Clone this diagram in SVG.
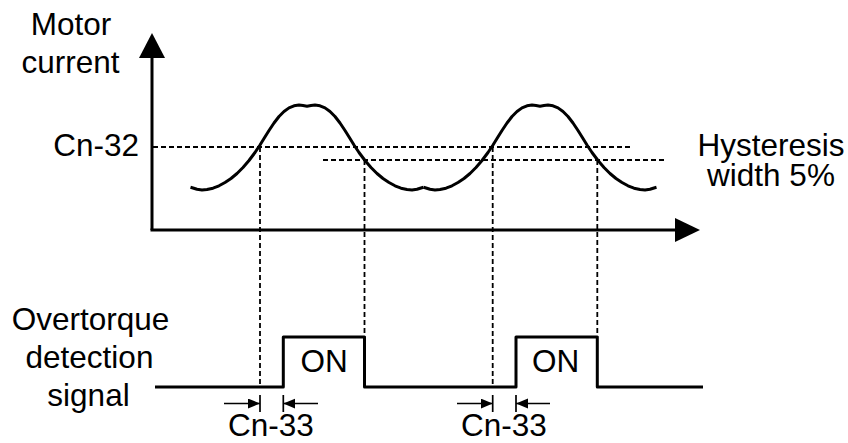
<svg xmlns="http://www.w3.org/2000/svg" xmlns:xlink="http://www.w3.org/1999/xlink" width="848" height="443" viewBox="0 0 848 443">
<style>
text{font-family:"Liberation Sans",Arial,sans-serif;font-size:31.5px;fill:#000}
.solid{fill:none;stroke:#000;stroke-width:3;stroke-linejoin:round}
.dash{fill:none;stroke:#000;stroke-width:1.8;stroke-dasharray:5,3}
.thin{fill:none;stroke:#000;stroke-width:1.7}
.mid{text-anchor:middle}
</style>
<defs>
<marker id="dimArrow" markerWidth="13" markerHeight="11" refX="12" refY="5" orient="auto" markerUnits="userSpaceOnUse">
<path d="M0,0 L12,5 L0,10 Z" fill="#000"/>
</marker>
<path id="hump" d="M-116.5,187.3 L-114,188 L-110,189.3 L-105,190 L-100,189.5 L-94,188.2 L-88,185.8 L-82,182.5 L-76,178.5 L-70,173.5 L-64,167.5 L-58,160.5 L-52,152.5 L-47,145 L-43,138.5 L-38,130.5 L-33,123 L-28,116.5 L-23,111.5 L-18,107.9 L-13,105.8 L-8,105.1 L-4,105.6 L0,106.3 L4,105.6 L8,105.1 L13,105.8 L18,107.9 L23,111.5 L28,116.5 L33,123 L38,130.5 L43,138.5 L47,145 L52,152.5 L58,160.5 L64,167.5 L70,173.5 L76,178.5 L82,182.5 L88,185.8 L94,188.2 L100,189.5 L105,190 L110,189.3 L114,188 L116.5,187.3"/>
</defs>

<g id="axes">
<line class="solid" x1="152" y1="230" x2="152" y2="56"/>
<path d="M152,33 L139,58 L165,58 Z" fill="#000"/>
<line class="solid" x1="150.5" y1="230" x2="677" y2="230"/>
<path d="M700,230 L675,218 L675,242 Z" fill="#000"/>
</g>

<g id="current-curve" class="solid">
<use xlink:href="#hump" href="#hump" x="307" y="0"/>
<use xlink:href="#hump" href="#hump" x="540" y="0"/>
</g>

<g id="connectors">
<line class="dash" x1="153" y1="147" x2="631" y2="147"/>
<line class="dash" x1="323" y1="160" x2="665" y2="160"/>
<line class="dash" x1="260" y1="147" x2="260" y2="387"/>
<line class="dash" x1="364.5" y1="160" x2="364.5" y2="337"/>
<line class="dash" x1="492.7" y1="147" x2="492.7" y2="387"/>
<line class="dash" x1="597.3" y1="160" x2="597.3" y2="337"/>
<line class="thin" x1="260" y1="395" x2="260" y2="412"/>
<line class="thin" x1="283.3" y1="395" x2="283.3" y2="412"/>
<line class="thin" x1="492.7" y1="395" x2="492.7" y2="412"/>
<line class="thin" x1="516" y1="395" x2="516" y2="412"/>
<line class="thin" x1="224" y1="403.5" x2="260" y2="403.5" marker-end="url(#dimArrow)"/>
<line class="thin" x1="318" y1="403.5" x2="283.3" y2="403.5" marker-end="url(#dimArrow)"/>
<line class="thin" x1="457" y1="403.5" x2="492.7" y2="403.5" marker-end="url(#dimArrow)"/>
<line class="thin" x1="550" y1="403.5" x2="516" y2="403.5" marker-end="url(#dimArrow)"/>
</g>

<g id="signal">
<path class="solid" d="M155,387 L283.3,387 L283.3,337 L364.5,337 L364.5,387 L516,387 L516,337 L597.3,337 L597.3,387 L703,387"/>
</g>

<g id="labels">
<text class="mid" x="71" y="35">Motor</text>
<text class="mid" x="70.5" y="72.5">current</text>
<text x="139" y="156" text-anchor="end">Cn-32</text>
<text class="mid" x="771" y="156">Hysteresis</text>
<text class="mid" x="771" y="185.5">width 5%</text>
<text class="mid" x="90.5" y="330">Overtorque</text>
<text class="mid" x="89.5" y="368">detection</text>
<text class="mid" x="88.5" y="406">signal</text>
<text class="mid" x="324" y="371.5">ON</text>
<text class="mid" x="555.5" y="371.5">ON</text>
<text class="mid" x="271" y="436.3">Cn-33</text>
<text class="mid" x="504" y="436.3">Cn-33</text>
</g>
</svg>
